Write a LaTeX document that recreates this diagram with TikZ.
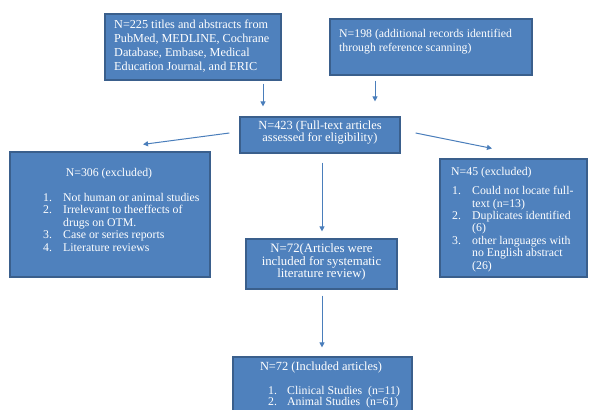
\documentclass[tikz,border=0pt]{standalone}
\usepackage{fontspec}
\setmainfont{Liberation Serif}
\usetikzlibrary{arrows.meta}
\definecolor{boxfill}{HTML}{4F81BD}
\definecolor{boxline}{HTML}{3A5F8C}
\definecolor{arrcol}{HTML}{4A7EBB}
\begin{document}
\begin{tikzpicture}[x=1pt,y=1pt,
  box/.style={draw=boxline, fill=boxfill, line width=1.2pt, inner sep=0pt},
  txt/.style={text=white, inner sep=0pt, font=\fontsize{11.8}{13.8}\selectfont},
  lst/.style={text=white, inner sep=0pt, align=left, anchor=west, font=\fontsize{11.8}{12.4}\selectfont},
  arr/.style={draw=arrcol, line width=1pt, -{Triangle[length=5pt,width=5pt]}}]
\clip (0,0) rectangle (590,410);
\fill[white] (0,0) rectangle (590,410);
% boxes
\node[box, minimum width=176, minimum height=66] (b1) at (193,363) {};
\node[box, minimum width=202, minimum height=56] (b2) at (431,363) {};
\node[box, minimum width=160, minimum height=36] (b3) at (320,275) {};
\node[box, minimum width=200, minimum height=125] (b306) at (110,195.5) {};
\node[box, minimum width=147, minimum height=118] (b45) at (513.5,192) {};
\node[box, minimum width=151, minimum height=50] (b72) at (321.5,146) {};
\node[box, minimum width=179, minimum height=80] (bin) at (322.5,13) {};
% texts
\node[txt, anchor=west, align=left, font=\fontsize{12.2}{13.8}\selectfont] (t1) at (114,364)
  {N=225 titles and abstracts from\\PubMed, MEDLINE, Cochrane\\Database, Embase, Medical\\Education Journal, and ERIC};
\node[txt, anchor=west, align=left] (t2) at (339,368.5)
  {N=198 (additional records identified\\through reference scanning)};
\node[txt, align=center, font=\fontsize{12.4}{12}\selectfont] (t3) at (320,277)
  {N=423 (Full-text articles\\assessed for eligibility)};
\node[txt] (t306) at (109,236) {N=306 (excluded)};
\node[lst, font=\fontsize{11.8}{12.5}\selectfont] (l306) at (43,188)
  {\makebox[20pt][l]{1.}Not human or animal studies\\
   \makebox[20pt][l]{2.}Irrelevant to theeffects of\\
   \hspace*{20pt}drugs on OTM.\\
   \makebox[20pt][l]{3.}Case or series reports\\
   \makebox[20pt][l]{4.}Literature reviews};
\node[txt, anchor=west] (t45) at (451,237) {N=45 (excluded)};
\node[lst] (l45) at (452,181)
  {\makebox[20pt][l]{1.}Could not locate full-\\
   \hspace*{20pt}text (n=13)\\
   \makebox[20pt][l]{2.}Duplicates identified\\
   \hspace*{20pt}(6)\\
   \makebox[20pt][l]{3.}other languages with\\
   \hspace*{20pt}no English abstract\\
   \hspace*{20pt}(26)};
\node[txt, align=center, font=\fontsize{12.8}{11.6}\selectfont] (t72) at (321.5,148)
  {N=72(Articles were\\included for systematic\\literature review)};
\node[txt, font=\fontsize{12.4}{12}\selectfont] (tin) at (321,42) {N=72 (Included articles)};
\node[lst, font=\fontsize{11.8}{11}\selectfont] (lin) at (268,12.5)
  {\makebox[19pt][l]{1.}Clinical Studies\ \ (n=11)\\
   \makebox[19pt][l]{2.}Animal Studies\ \ (n=61)};
% connectors
\draw[arr, shorten <=3pt, shorten >=10pt] (b1.south -| 263,0) -- (b3.north -| 263,0);
\draw[arr, shorten <=5pt, shorten >=15pt] (b2.south -| 375,0) -- (b3.north -| 375,0);
\draw[arr] ([shift={(-10,2)}]b3.west) -- ([shift={(33,7)}]b306.north);
\draw[arr] ([shift={(15,2)}]b3.east) -- ([shift={(-21.5,10)}]b45.north);
\draw[arr, shorten <=9pt, shorten >=7pt] (b3.south -| 322,0) -- (b72.north -| 322,0);
\draw[arr, shorten <=6pt, shorten >=9pt] (b72.south -| 322,0) -- (bin.north -| 322,0);
\end{tikzpicture}
\end{document}
